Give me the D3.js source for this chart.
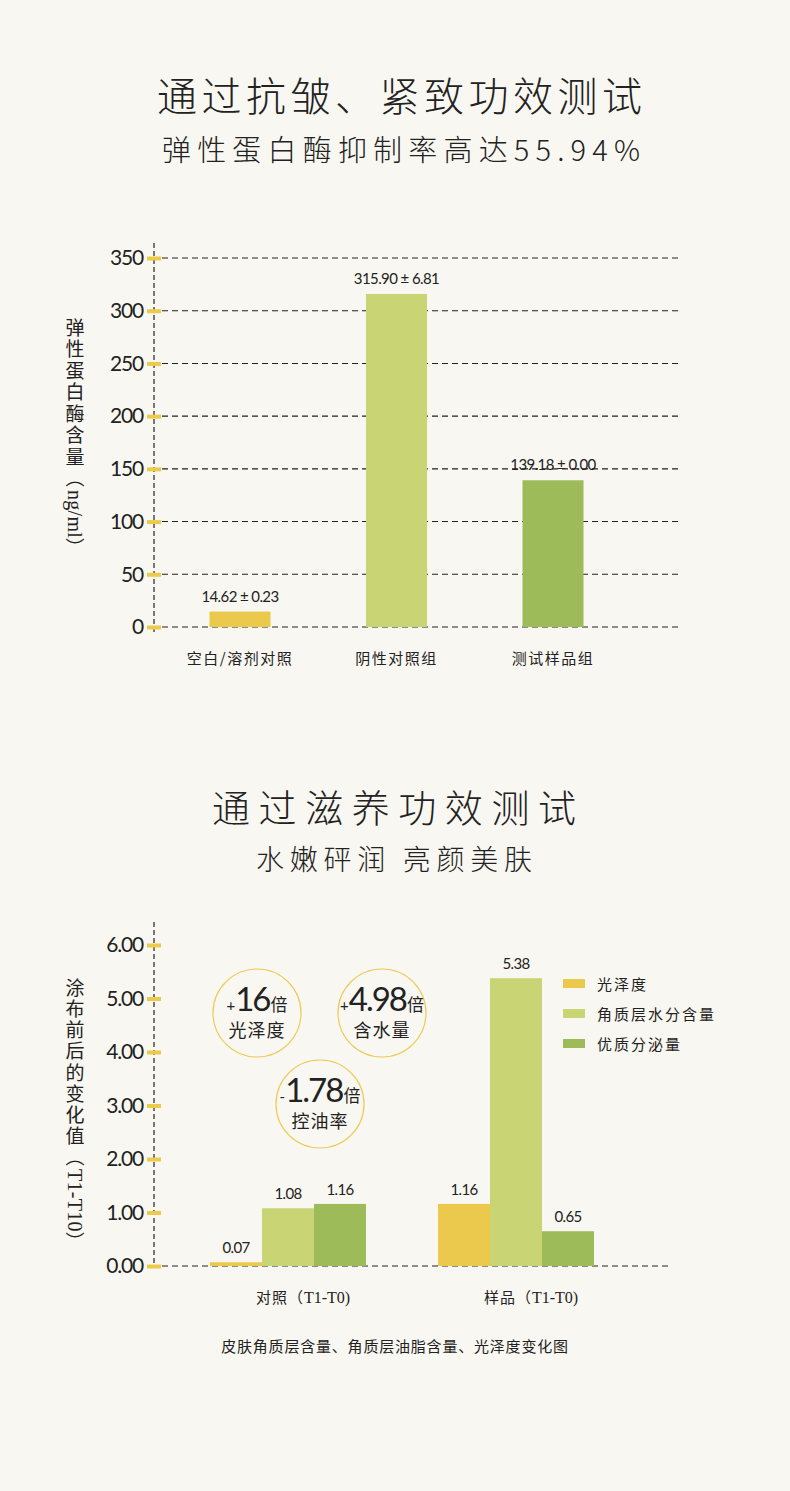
<!DOCTYPE html>
<html><head><meta charset="utf-8">
<script src="https://cdn.jsdelivr.net/npm/d3@7/dist/d3.min.js"></script>
<style>
html,body{margin:0;padding:0;background:#f9f7f1;}
svg{display:block;}
text{fill:#222;}
.cjk{font-family:"Noto Sans CJK SC","Noto Sans",sans-serif;}
.num{font-family:Lato,"Open Sans",sans-serif;}
.ser{font-family:"Liberation Serif","DejaVu Serif",serif;}
</style></head>
<body>
<svg id="chart" width="790" height="1491"></svg>
<script>
// ---------- DATA ----------
const title1 = "通过抗皱、紧致功效测试";
const subtitle1 = "弹性蛋白酶抑制率高达55.94%";
const yLabel1 = "弹性蛋白酶含量（ng/ml）";
const categories1 = ["空白/溶剂对照", "阴性对照组", "测试样品组"];
const values1 = [14.62, 315.90, 139.18];
const errors1 = [0.23, 6.81, 0.00];
const yTicks1 = [0, 50, 100, 150, 200, 250, 300, 350];

const title2 = "通过滋养功效测试";
const subtitle2 = "水嫩砰润 亮颜美肤";
const yLabel2 = "涂布前后的变化值（T1-T10）";
const groups2 = ["对照（T1-T0)", "样品（T1-T0)"];
const series2 = ["光泽度", "角质层水分含量", "优质分泌量"];
const glossValues = [0.07, 1.16];
const moistureValues = [1.08, 5.38];
const secretionValues = [1.16, 0.65];
const yTicks2 = [0, 1, 2, 3, 4, 5, 6];
const badgeSigns = ["+", "+", "-"];
const badgeValues = ["16", "4.98", "1.78"];
const badgeLabels = ["光泽度", "含水量", "控油率"];
const caption2 = "皮肤角质层含量、角质层油脂含量、光泽度变化图";

const colors = ["#eac94d", "#c9d575", "#9dbc59"];
const tickColor = "#eccb48";

const svg = d3.select("#chart");

// ---------- TITLES ----------
function title(txt, x, y, size, len) {
  svg.append("text").attr("class", "cjk").attr("x", x).attr("y", y)
    .attr("font-size", size).attr("font-weight", 300)
    .attr("textLength", len).attr("lengthAdjust", "spacing")
    .text(txt);
}
title(title1, 157, 111, 40, 485);
title(subtitle1, 162, 161, 29, 478);
title(title2, 212, 822, 38, 364);
title(subtitle2, 256, 870, 28, 276);

// split a string into runs of ASCII (serif) and non-ASCII (CJK)
function runs(s) {
  const out = [];
  for (const ch of s) {
    const ascii = ch.charCodeAt(0) < 128;
    if (out.length && out[out.length - 1].ascii === ascii) out[out.length - 1].t += ch;
    else out.push({ascii, t: ch});
  }
  return out;
}
function fillRuns(textSel, s, cjkLs, serSize, serLs) {
  runs(s).forEach(r => {
    const sp = textSel.append("tspan").attr("class", r.ascii ? "ser" : "cjk").text(r.t);
    if (r.ascii) { sp.attr("font-size", serSize).attr("letter-spacing", serLs); }
    else sp.attr("letter-spacing", cjkLs);
  });
}

// ---------- CHART 1 ----------
const y1 = d3.scaleLinear().domain([0, 350]).range([627, 258]);
const x1 = d3.scalePoint().domain(categories1).range([240, 553]);
const barW1 = 61;
const axisX = 154;

function yAxis(scale, ticks, fmt, top, bottom) {
  svg.append("line").attr("x1", axisX).attr("x2", axisX).attr("y1", top).attr("y2", bottom)
    .attr("stroke", "#222").attr("stroke-width", 1.2).attr("stroke-dasharray", "5,3");
  const g = svg.append("g").attr("transform", `translate(${axisX},0)`)
    .call(d3.axisLeft(scale).tickValues(ticks).tickFormat(fmt).tickSize(0).tickPadding(11));
  g.select(".domain").remove();
  g.selectAll(".tick line").attr("x1", -7).attr("x2", 7)
    .attr("stroke", tickColor).attr("stroke-width", 4);
  g.selectAll(".tick text").attr("class", "num").attr("font-size", 21)
    .attr("letter-spacing", -1.2).attr("fill", "#222").attr("font-family", "Lato");
  return g;
}

function vLabel(txt, x, y, ls) {
  const t = svg.append("text").attr("x", x).attr("y", y)
    .attr("font-size", 19)
    .style("writing-mode", "vertical-rl");
  fillRuns(t, txt, ls, 20, 0.3);
}

// gridlines
svg.append("g").selectAll("line").data(yTicks1).join("line")
  .attr("x1", 162).attr("x2", 678)
  .attr("y1", d => y1(d)).attr("y2", d => y1(d))
  .attr("stroke", "#222").attr("stroke-width", 1.1).attr("stroke-dasharray", "6,4");

// bars
svg.append("g").selectAll("rect").data(values1).join("rect")
  .attr("x", (d, i) => x1(categories1[i]) - barW1 / 2)
  .attr("width", barW1)
  .attr("y", d => y1(d))
  .attr("height", d => y1(0) - y1(d))
  .attr("fill", (d, i) => colors[i]);

// value labels
svg.append("g").selectAll("text").data(values1).join("text")
  .attr("class", "num")
  .attr("x", (d, i) => x1(categories1[i]))
  .attr("y", d => y1(d) - 10)
  .attr("text-anchor", "middle").attr("font-size", 15).attr("letter-spacing", -0.6)
  .text((d, i) => d.toFixed(2) + " ± " + errors1[i].toFixed(2));

yAxis(y1, yTicks1, d3.format("d"), 243, 632);

// category labels
svg.append("g").selectAll("text").data(categories1).join("text")
  .attr("class", "cjk")
  .attr("x", d => x1(d)).attr("y", 664)
  .attr("text-anchor", "middle").attr("font-size", 15).attr("letter-spacing", 1.5)
  .text(d => d);

vLabel(yLabel1, 75, 318, 2.5);

// ---------- CHART 2 ----------
const y2 = d3.scaleLinear().domain([0, 6]).range([1266, 945]);
const x2 = d3.scalePoint().domain(groups2).range([288, 516]);
const xs = d3.scaleBand().domain(series2).range([-78, 78]).padding(0);
const seriesValues = [glossValues, moistureValues, secretionValues];

// zero baseline
svg.append("line").attr("x1", 162).attr("x2", 668)
  .attr("y1", y2(0)).attr("y2", y2(0))
  .attr("stroke", "#222").attr("stroke-width", 1.1).attr("stroke-dasharray", "6,4");

const flat = [];
groups2.forEach((g, gi) => series2.forEach((s, si) => flat.push({g, s, si, v: seriesValues[si][gi]})));

svg.append("g").selectAll("rect").data(flat).join("rect")
  .attr("x", d => x2(d.g) + xs(d.s))
  .attr("width", xs.bandwidth())
  .attr("y", d => y2(d.v))
  .attr("height", d => y2(0) - y2(d.v))
  .attr("fill", d => colors[d.si]);

svg.append("g").selectAll("text").data(flat).join("text")
  .attr("class", "num")
  .attr("x", d => x2(d.g) + xs(d.s) + xs.bandwidth() / 2)
  .attr("y", d => y2(d.v) - 9)
  .attr("text-anchor", "middle").attr("font-size", 15).attr("letter-spacing", -0.6)
  .text(d => d.v.toFixed(2));

yAxis(y2, yTicks2, d3.format(".2f"), 922, 1268);

// group labels
groups2.forEach(gname => {
  const t = svg.append("text").attr("x", x2(gname) + 15).attr("y", 1303)
    .attr("text-anchor", "middle").attr("font-size", 15);
  fillRuns(t, gname, 1, 16, 0);
});

vLabel(yLabel2, 75, 978, 2.2);

// legend
const lg = svg.append("g").attr("transform", "translate(563,979)");
lg.selectAll("rect").data(series2).join("rect")
  .attr("x", 0).attr("y", (d, i) => i * 30).attr("width", 22).attr("height", 9)
  .attr("fill", (d, i) => colors[i]);
lg.selectAll("text").data(series2).join("text")
  .attr("class", "cjk")
  .attr("x", 34).attr("y", (d, i) => i * 30 + 11)
  .attr("font-size", 15).attr("letter-spacing", 2)
  .text(d => d);

// badges
const badgePos = [[257, 1013], [382, 1013], [320, 1104]];
badgePos.forEach((p, i) => {
  const g = svg.append("g").attr("transform", `translate(${p[0]},${p[1]})`);
  g.append("circle").attr("r", 44).attr("fill", "none").attr("stroke", "#ecca55").attr("stroke-width", 1.2);
  const t = g.append("text").attr("text-anchor", "middle").attr("y", -2);
  t.append("tspan").attr("class", "num").attr("font-size", 15).text(badgeSigns[i]);
  t.append("tspan").attr("class", "num").attr("font-size", 33).attr("letter-spacing", -2).text(badgeValues[i]);
  t.append("tspan").attr("class", "cjk").attr("font-size", 17).attr("dx", 1).text("倍");
  g.append("text").attr("class", "cjk").attr("text-anchor", "middle").attr("y", 24)
    .attr("font-size", 18).attr("letter-spacing", 1).text(badgeLabels[i]);
});

// caption
svg.append("text").attr("class", "cjk")
  .attr("x", 395).attr("y", 1352)
  .attr("text-anchor", "middle").attr("font-size", 15).attr("letter-spacing", 0.8)
  .text(caption2);
</script>
</body></html>
